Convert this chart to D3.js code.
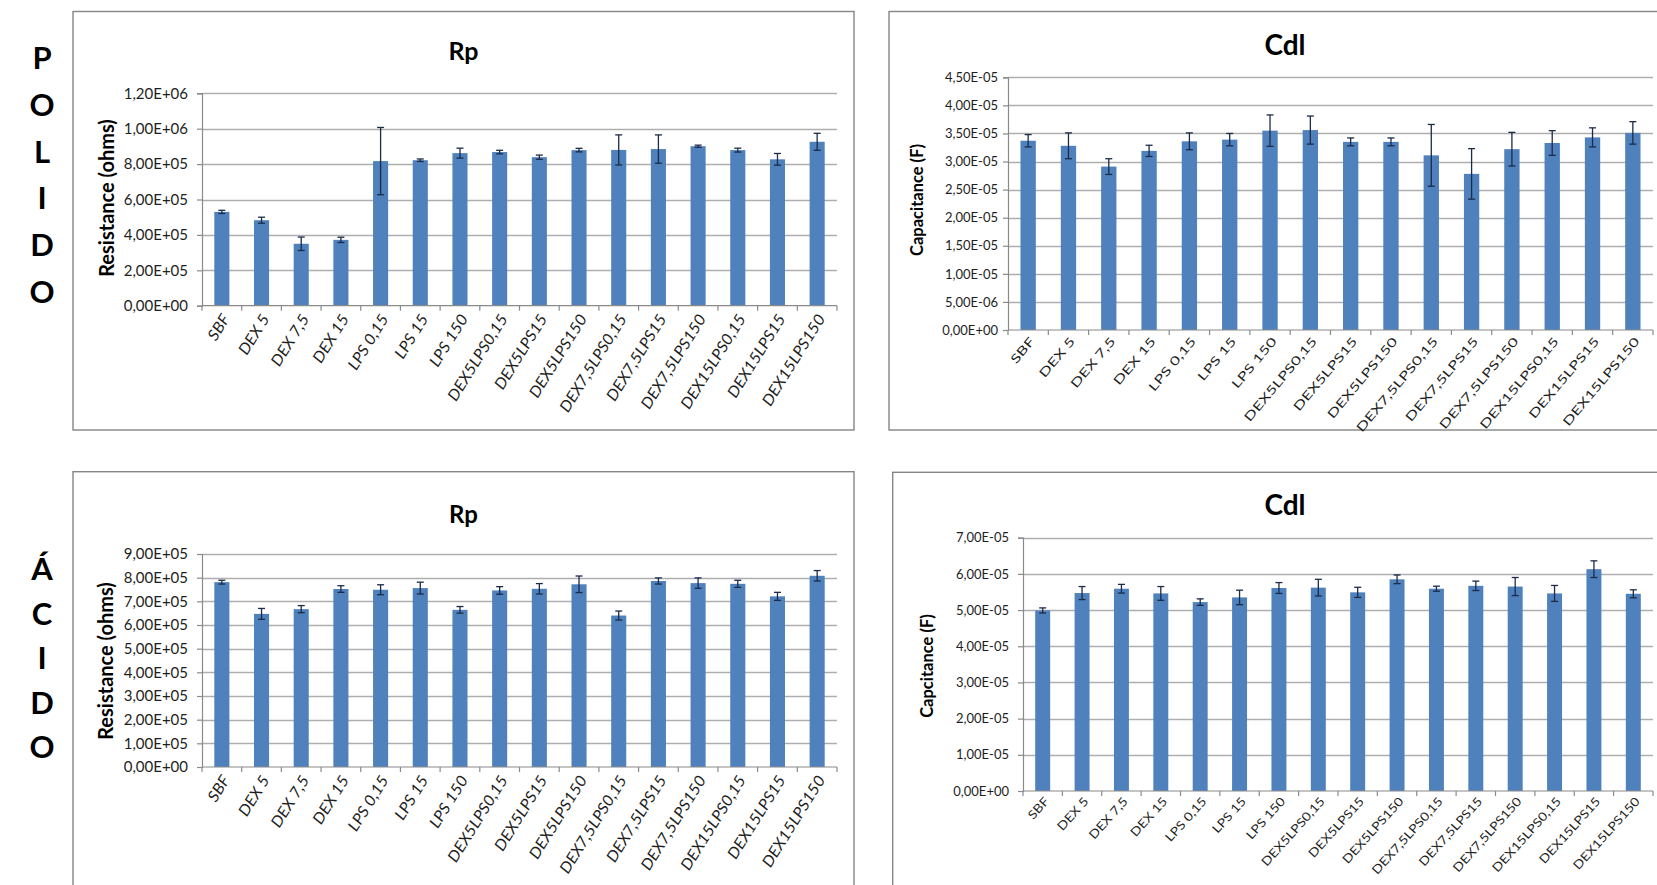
<!DOCTYPE html>
<html>
<head>
<meta charset="utf-8">
<script src="https://cdn.jsdelivr.net/npm/d3@7"></script>
<style>
  html, body { margin: 0; padding: 0; background: #ffffff; }
  svg { display: block; }
  text { font-family: Lato, "Open Sans", sans-serif; }
</style>
</head>
<body>
<svg id="fig" width="1657" height="885"></svg>
<script>
// ---- data -------------------------------------------------------------
const categories = ["SBF", "DEX 5", "DEX 7,5", "DEX 15", "LPS 0,15", "LPS 15", "LPS 150",
  "DEX5LPS0,15", "DEX5LPS15", "DEX5LPS150", "DEX7,5LPS0,15", "DEX7,5LPS15",
  "DEX7,5LPS150", "DEX15LPS0,15", "DEX15LPS15", "DEX15LPS150"];

// Polished surface ("POLIDO")
const polidoRp    = [5.30e5, 4.83e5, 3.50e5, 3.72e5, 8.17e5, 8.22e5, 8.62e5, 8.68e5, 8.39e5, 8.79e5, 8.80e5, 8.85e5, 9.01e5, 8.79e5, 8.27e5, 9.26e5];
const polidoRpErr = [0.09e5, 0.17e5, 0.38e5, 0.15e5, 1.90e5, 0.07e5, 0.28e5, 0.10e5, 0.12e5, 0.10e5, 0.85e5, 0.80e5, 0.06e5, 0.11e5, 0.33e5, 0.48e5];
const polidoCdl    = [3.37e-5, 3.28e-5, 2.91e-5, 3.19e-5, 3.36e-5, 3.39e-5, 3.55e-5, 3.56e-5, 3.35e-5, 3.35e-5, 3.11e-5, 2.78e-5, 3.22e-5, 3.33e-5, 3.43e-5, 3.51e-5];
const polidoCdlErr = [0.11e-5, 0.23e-5, 0.14e-5, 0.10e-5, 0.15e-5, 0.11e-5, 0.28e-5, 0.25e-5, 0.07e-5, 0.07e-5, 0.55e-5, 0.45e-5, 0.30e-5, 0.22e-5, 0.17e-5, 0.20e-5];

// Acid-etched surface ("ÁCIDO")
const acidoRp    = [7.81e5, 6.47e5, 6.67e5, 7.52e5, 7.49e5, 7.56e5, 6.64e5, 7.46e5, 7.53e5, 7.72e5, 6.40e5, 7.86e5, 7.77e5, 7.74e5, 7.21e5, 8.08e5];
const acidoRpErr = [0.08e5, 0.23e5, 0.15e5, 0.14e5, 0.21e5, 0.25e5, 0.14e5, 0.16e5, 0.22e5, 0.35e5, 0.19e5, 0.13e5, 0.22e5, 0.15e5, 0.17e5, 0.22e5];
const acidoCdl    = [4.99e-5, 5.47e-5, 5.59e-5, 5.46e-5, 5.22e-5, 5.35e-5, 5.61e-5, 5.62e-5, 5.49e-5, 5.85e-5, 5.59e-5, 5.67e-5, 5.65e-5, 5.46e-5, 6.13e-5, 5.45e-5];
const acidoCdlErr = [0.07e-5, 0.18e-5, 0.12e-5, 0.19e-5, 0.09e-5, 0.20e-5, 0.15e-5, 0.23e-5, 0.14e-5, 0.12e-5, 0.07e-5, 0.13e-5, 0.25e-5, 0.22e-5, 0.23e-5, 0.11e-5];

// Tick values of each value axis
const polidoRpTicks  = [0, 2e5, 4e5, 6e5, 8e5, 1e6, 1.2e6];
const polidoCdlTicks = [0, 0.5e-5, 1e-5, 1.5e-5, 2e-5, 2.5e-5, 3e-5, 3.5e-5, 4e-5, 4.5e-5];
const acidoRpTicks   = [0, 1e5, 2e5, 3e5, 4e5, 5e5, 6e5, 7e5, 8e5, 9e5];
const acidoCdlTicks  = [0, 1e-5, 2e-5, 3e-5, 4e-5, 5e-5, 6e-5, 7e-5];

// Row captions written letter by letter down the left margin
const rowCaptions = ["POLIDO", "ÁCIDO"];
const chartTitles = ["Rp", "Cdl", "Rp", "Cdl"];
const axisTitles  = ["Resistance (ohms)", "Capacitance (F)", "Resistance (ohms)", "Capcitance (F)"];

// ---- helpers ----------------------------------------------------------
// Excel-style scientific label with a decimal comma: 1,20E+06
function sci(v) {
  if (v === 0) return "0,00E+00";
  const parts = v.toExponential(2).split("e");
  const exp = +parts[1];
  return parts[0].replace(".", ",") + "E" + (exp < 0 ? "-" : "+") + String(Math.abs(exp)).padStart(2, "0");
}

const COL = {
  bar: "#4f81bd",
  err: "#1c2b48",
  grid: "#aeaeae",
  axis: "#8a8a8a",
  frame: "#858585",
  text: "#1e1e1e"
};

const svg = d3.select("#fig");

function drawPanel(p) {
  const g = svg.append("g");

  // chart frame
  g.append("rect")
    .attr("x", p.box[0]).attr("y", p.box[1])
    .attr("width", p.box[2] - p.box[0]).attr("height", p.box[3] - p.box[1])
    .attr("fill", "#ffffff").attr("stroke", COL.frame).attr("stroke-width", 1.4);

  const x = d3.scaleBand().domain(categories)
    .range([p.x0, p.x1]).paddingInner(0.62).paddingOuter(0.31);
  const y = d3.scaleLinear().domain([0, p.max]).range([p.y0, p.yTop]);

  // horizontal gridlines
  g.append("g").selectAll("line")
    .data(p.ticks.filter(t => t > 0))
    .join("line")
    .attr("x1", p.x0).attr("x2", p.x1)
    .attr("y1", d => Math.round(y(d)) + 0.5).attr("y2", d => Math.round(y(d)) + 0.5)
    .attr("stroke", COL.grid).attr("stroke-width", 1.3);

  // value axis
  const yAxis = g.append("g")
    .attr("transform", `translate(${p.x0},0)`)
    .call(d3.axisLeft(y).tickValues(p.ticks).tickFormat(sci).tickSize(5).tickPadding(p.tickPad));
  yAxis.select(".domain").attr("stroke", COL.axis).attr("stroke-width", 1.2);
  yAxis.selectAll(".tick line").attr("stroke", COL.axis).attr("stroke-width", 1.2);
  yAxis.selectAll(".tick text")
    .attr("fill", COL.text)
    .style("font-family", "Lato, 'Open Sans', sans-serif")
    .style("font-size", p.tickSize + "px");

  // bars
  const data = categories.map((c, i) => ({ c, v: p.values[i], e: p.errors[i] }));
  g.append("g").selectAll("rect")
    .data(data)
    .join("rect")
    .attr("x", d => x(d.c)).attr("width", x.bandwidth())
    .attr("y", d => y(d.v)).attr("height", d => y(0) - y(d.v))
    .attr("fill", COL.bar);

  // error bars
  const eg = g.append("g").attr("stroke", COL.err).attr("stroke-width", 1.3).attr("fill", "none");
  const cx = d => x(d.c) + x.bandwidth() / 2;
  eg.selectAll("line.stem").data(data).join("line").attr("class", "stem")
    .attr("x1", cx).attr("x2", cx)
    .attr("y1", d => y(d.v - d.e)).attr("y2", d => y(d.v + d.e));
  eg.selectAll("line.capT").data(data).join("line").attr("class", "capT")
    .attr("x1", d => cx(d) - 3.5).attr("x2", d => cx(d) + 3.5)
    .attr("y1", d => y(d.v + d.e)).attr("y2", d => y(d.v + d.e));
  eg.selectAll("line.capB").data(data).join("line").attr("class", "capB")
    .attr("x1", d => cx(d) - 3.5).attr("x2", d => cx(d) + 3.5)
    .attr("y1", d => y(d.v - d.e)).attr("y2", d => y(d.v - d.e));

  // category axis: slanted labels, stretched along their baseline
  const xAxis = g.append("g")
    .attr("transform", `translate(0,${p.y0})`)
    .call(d3.axisBottom(x).tickSize(0).tickPadding(0));
  xAxis.select(".domain").attr("stroke", COL.axis).attr("stroke-width", 1.2)
    .attr("d", `M${p.x0},0H${p.x1}`);
  xAxis.selectAll(".tick text")
    .attr("x", null).attr("y", null).attr("dy", "0.35em")
    .attr("text-anchor", "end")
    .attr("transform", `translate(${p.catDx},${p.catDy}) rotate(${-p.catAngle}) scale(${p.catStretch},1)`)
    .attr("fill", COL.text)
    .style("font-family", "Lato, 'Open Sans', sans-serif")
    .style("font-style", p.catItalic ? "italic" : "normal")
    .style("font-size", p.catSize + "px");

  // tick marks between categories
  g.append("g").selectAll("line")
    .data(d3.range(categories.length + 1))
    .join("line")
    .attr("x1", i => p.x0 + i * x.step()).attr("x2", i => p.x0 + i * x.step())
    .attr("y1", p.y0).attr("y2", p.y0 + 5)
    .attr("stroke", COL.axis).attr("stroke-width", 1.2);

  // chart title
  g.append("text")
    .attr("x", p.titleX).attr("y", p.titleY)
    .attr("text-anchor", "middle")
    .attr("fill", "#000")
    .style("font-weight", 700)
    .style("font-size", p.titleSize + "px")
    .text(p.title);

  // value axis title
  g.append("text")
    .attr("transform", `translate(${p.ytX},${p.ytY}) rotate(-90)`)
    .attr("text-anchor", "middle")
    .attr("dy", "0.35em")
    .attr("fill", "#000")
    .style("font-weight", 700)
    .style("font-size", p.ytSize + "px")
    .text(p.yTitle);
}

const panels = [
  { box: [73, 11.5, 854, 430], x0: 202, x1: 837, y0: 305.7, yTop: 93.3, max: 1.2e6,
    ticks: polidoRpTicks, values: polidoRp, errors: polidoRpErr,
    tickSize: 15, tickPad: 9,
    catSize: 15.5, catItalic: true, catAngle: 58, catStretch: 1.07, catDx: 4, catDy: 10,
    title: chartTitles[0], titleX: 463.5, titleY: 60, titleSize: 25,
    yTitle: axisTitles[0], ytX: 107, ytY: 198, ytSize: 20 },
  { box: [889, 11.5, 1680, 430], x0: 1008, x1: 1653, y0: 330, yTop: 77.3, max: 4.5e-5,
    ticks: polidoCdlTicks, values: polidoCdl, errors: polidoCdlErr,
    tickSize: 13, tickPad: 5,
    catSize: 12, catItalic: false, catAngle: 50, catStretch: 1.42, catDx: 4, catDy: 9,
    title: chartTitles[1], titleX: 1285, titleY: 55, titleSize: 28,
    yTitle: axisTitles[1], ytX: 917, ytY: 200, ytSize: 16.5 },
  { box: [73, 471.7, 854, 900], x0: 202, x1: 837, y0: 767, yTop: 554, max: 9e5,
    ticks: acidoRpTicks, values: acidoRp, errors: acidoRpErr,
    tickSize: 15, tickPad: 9,
    catSize: 15.5, catItalic: true, catAngle: 58, catStretch: 1.07, catDx: 4, catDy: 10,
    title: chartTitles[2], titleX: 463.5, titleY: 523, titleSize: 24,
    yTitle: axisTitles[2], ytX: 106, ytY: 661, ytSize: 20 },
  { box: [892.7, 472.3, 1680, 900], x0: 1023, x1: 1653, y0: 791, yTop: 537.7, max: 7e-5,
    ticks: acidoCdlTicks, values: acidoCdl, errors: acidoCdlErr,
    tickSize: 13, tickPad: 9,
    catSize: 12, catItalic: false, catAngle: 48, catStretch: 1.18, catDx: 4, catDy: 8,
    title: chartTitles[3], titleX: 1285, titleY: 515, titleSize: 28,
    yTitle: axisTitles[3], ytX: 927, ytY: 666, ytSize: 16.5 }
];

panels.forEach(drawPanel);

// row captions, one letter per line
const captionLayout = [
  { x: 42, y: 58, step: 46.7 },
  { x: 42, y: 569, step: 44.5 }
];
rowCaptions.forEach((word, r) => {
  svg.append("g").selectAll("text")
    .data(Array.from(word))
    .join("text")
    .attr("x", captionLayout[r].x)
    .attr("y", (d, i) => captionLayout[r].y + i * captionLayout[r].step)
    .attr("dy", "0.36em")
    .attr("text-anchor", "middle")
    .attr("fill", "#000")
    .style("font-weight", 700)
    .style("font-size", "31px")
    .text(d => d);
});
</script>
</body>
</html>
